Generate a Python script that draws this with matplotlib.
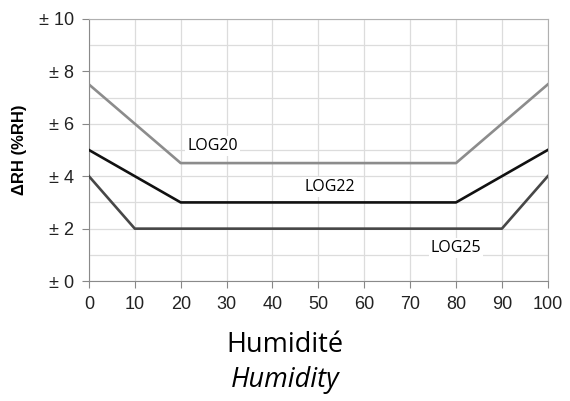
import matplotlib.pyplot as plt
from matplotlib import font_manager
from matplotlib.ticker import MultipleLocator

# humidity breakpoints and accuracy (%RH) for each logger
x_log20 = [0, 20, 80, 100]
y_log20 = [7.5, 4.5, 4.5, 7.5]
x_log22 = [0, 20, 80, 100]
y_log22 = [5, 3, 3, 5]
x_log25 = [0, 10, 90, 100]
y_log25 = [4, 2, 2, 4]

x_ticks = list(range(0, 101, 10))
y_ticks = [0, 2, 4, 6, 8, 10]
y_ticklabels = ["± %d" % v for v in y_ticks]

names = {f.name for f in font_manager.fontManager.ttflist}
tick_font = "Liberation Sans Narrow" if "Liberation Sans Narrow" in names else "Liberation Sans"
tick_size = 15 if tick_font.endswith("Narrow") else 13

fig = plt.figure(figsize=(5.7, 4.01), dpi=100)
ax = fig.add_axes([0.156, 0.299, 0.805, 0.654])

ax.plot(x_log20, y_log20, color="#8c8c8c", lw=1.9, zorder=3)
ax.plot(x_log22, y_log22, color="#111111", lw=1.9, zorder=3)
ax.plot(x_log25, y_log25, color="#474747", lw=1.9, zorder=3)

lbl = dict(fontsize=11.5, family="Open Sans", ha="center", va="center", zorder=4,
           bbox=dict(facecolor="white", edgecolor="none", pad=1.5))
ax.text(27, 5.15, "LOG20", **lbl)
ax.text(52.5, 3.6, "LOG22", **lbl)
ax.text(80, 1.25, "LOG25", **lbl)

ax.set_xlim(0, 100)
ax.set_ylim(0, 10)
ax.set_xticks(x_ticks)
ax.set_yticks(y_ticks)
ax.set_yticklabels(y_ticklabels, family=tick_font)
ax.set_xticklabels([str(v) for v in x_ticks], family=tick_font)
ax.yaxis.set_minor_locator(MultipleLocator(1))
ax.grid(which="both", color="#dcdcdc", lw=0.9, zorder=0)
ax.tick_params(which="major", length=5, color="#888888", labelsize=tick_size,
               labelcolor="#222222", pad=6)
ax.tick_params(which="minor", length=0)
for s in ["left", "bottom"]:
    ax.spines[s].set_color("#8a8a8a")
for s in ["top", "right"]:
    ax.spines[s].set_color("#b0b0b0")
ax.set_axisbelow(True)

ax.set_ylabel("ΔRH (%RH)", fontsize=12, fontweight="bold", family="Liberation Sans", labelpad=8)

fig.text(0.5, 0.14, "Humidité", fontsize=19.5, family="Open Sans", ha="center", va="center")
fig.text(0.5, 0.052, "Humidity", fontsize=19.5, family="Open Sans", style="italic",
         ha="center", va="center")

fig.savefig("out.png", dpi=100)
